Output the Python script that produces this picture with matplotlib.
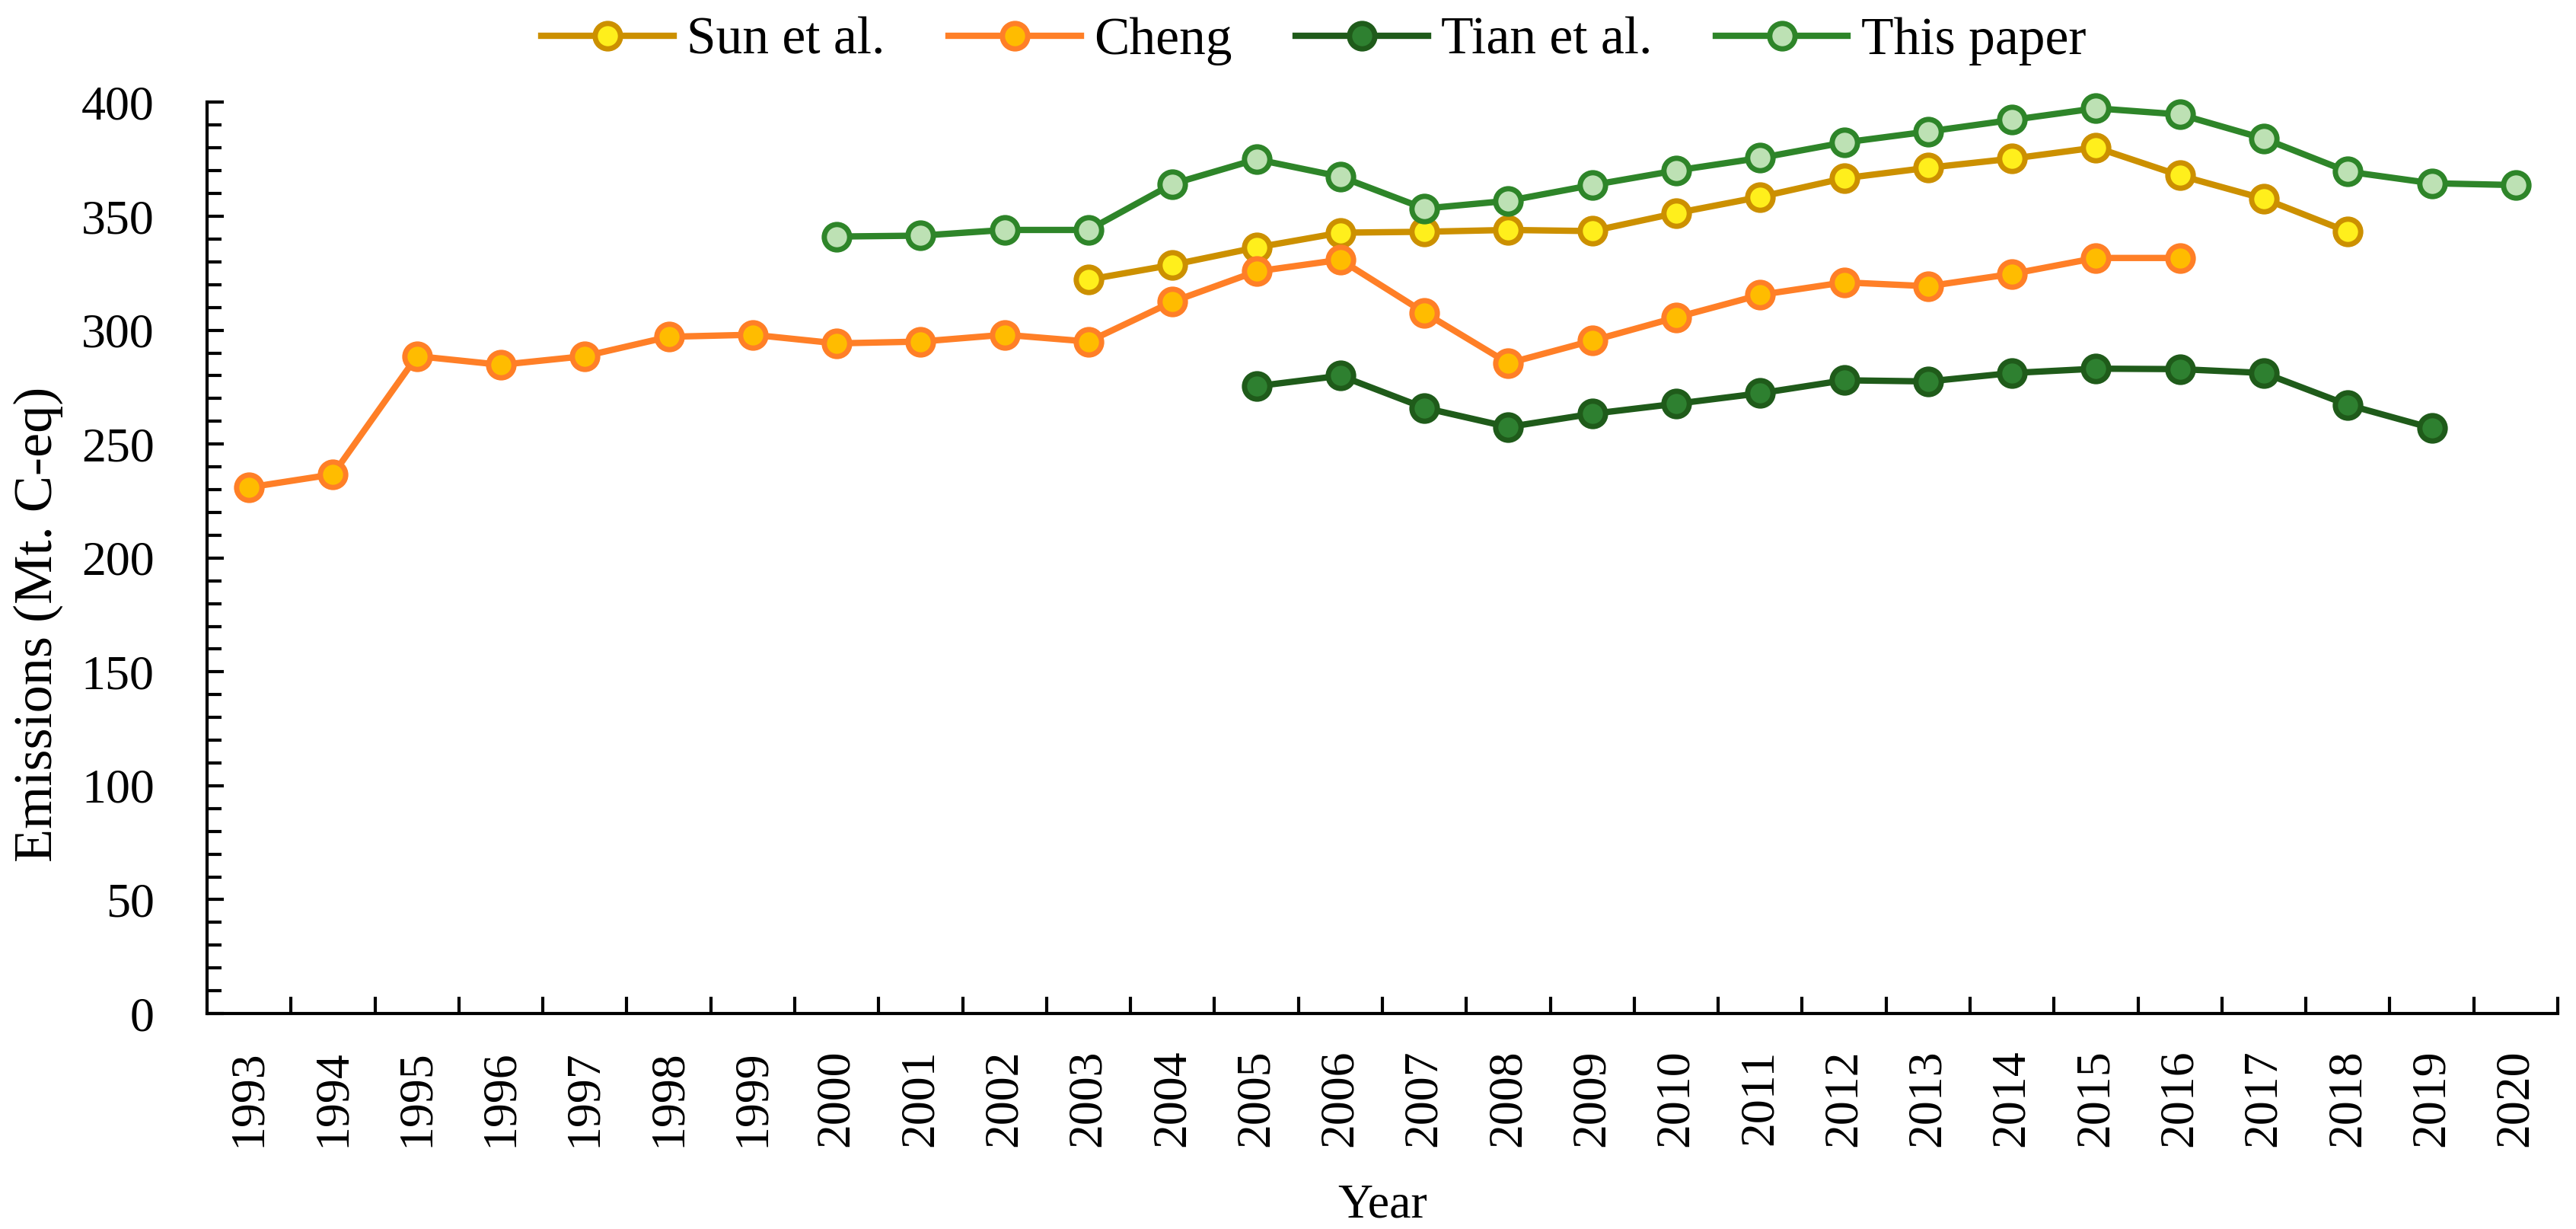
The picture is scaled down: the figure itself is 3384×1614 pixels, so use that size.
import matplotlib
matplotlib.use("Agg")
import matplotlib.pyplot as plt
from matplotlib.ticker import MultipleLocator, FixedLocator
import numpy as np

years = list(range(1993, 2021))
year_labels = [str(y) for y in years]

sun_years = list(range(2003, 2019))
sun_vals = [322.2, 328.7, 336.3, 342.8, 343.2, 344.0, 343.5, 351.4, 358.5,
            366.7, 371.3, 375.3, 380.2, 367.9, 357.7, 343.2]

cheng_years = list(range(1993, 2017))
cheng_vals = [231.0, 236.7, 288.6, 284.8, 288.6, 297.1, 298.0, 294.2, 295.0,
              298.0, 295.0, 312.5, 325.8, 330.9, 307.7, 285.5, 295.4, 305.6,
              315.5, 321.0, 319.3, 324.7, 331.7, 331.7]

tian_years = list(range(2005, 2020))
tian_vals = [275.4, 280.0, 265.9, 257.5, 263.3, 267.7, 272.3, 278.0, 277.5,
             281.2, 283.1, 282.9, 281.2, 267.2, 257.0]

paper_years = list(range(2000, 2021))
paper_vals = [341.1, 341.5, 344.0, 344.0, 364.2, 375.0, 367.4, 353.4, 356.8,
              363.7, 370.1, 375.6, 382.4, 387.2, 392.3, 397.4, 394.7, 384.1,
              369.6, 364.5, 363.7]

series = [
    ("Sun et al.", sun_years, sun_vals, "#CC9000", "#FFEF1C"),
    ("Cheng", cheng_years, cheng_vals, "#FF7F27", "#FFBC00"),
    ("Tian et al.", tian_years, tian_vals, "#1F5B1A", "#2E8030"),
    ("This paper", paper_years, paper_vals, "#2E8529", "#BDE1B4"),
]

plt.rcParams['font.family'] = ['Liberation Serif', 'DejaVu Serif']

fig = plt.figure(figsize=(16.92, 8.07), dpi=200)
ax = fig.add_axes([0.0804, 0.1753, 0.9929 - 0.0804, 0.9167 - 0.1753])

for name, yrs, vals, lc, fc in series:
    xs = [years.index(y) for y in yrs]
    ax.plot(xs, vals, color=lc, lw=3, marker='o', markersize=12,
            markerfacecolor=fc, markeredgecolor=lc, markeredgewidth=2.5,
            label=name, solid_joinstyle='round', clip_on=False)

ax.set_xlim(-0.5, len(years) - 0.5)
ax.set_ylim(0, 400)

ax.xaxis.set_major_locator(FixedLocator(np.arange(len(years))))
ax.set_xticklabels(year_labels, rotation=90, fontsize=23)
ax.xaxis.set_minor_locator(FixedLocator(np.arange(len(years)) + 0.5))
ax.tick_params(axis='x', which='major', length=0, pad=17)
ax.tick_params(axis='x', which='minor', direction='in', length=8, width=1.5)

ax.yaxis.set_major_locator(MultipleLocator(50))
ax.yaxis.set_minor_locator(MultipleLocator(10))
ax.tick_params(axis='y', which='major', direction='in', length=8, width=1.5,
               labelsize=23, pad=25)
ax.tick_params(axis='y', which='minor', direction='in', length=7, width=1.5)

for s in ['top', 'right']:
    ax.spines[s].set_visible(False)
for s in ['left', 'bottom']:
    ax.spines[s].set_linewidth(1.5)

ax.set_xlabel("Year", fontsize=23)
ax.xaxis.set_label_coords(0.5, -0.187)
ax.set_ylabel("Emissions (Mt. C-eq)", fontsize=26)
ax.yaxis.set_label_coords(-0.0612, 0.427)

fig.legend(loc='center', bbox_to_anchor=(0.510, 0.9665), ncol=4, frameon=False,
           fontsize=25, handlelength=2.5, handletextpad=0.25, columnspacing=1.2)

fig.savefig("out.png", dpi=200)
